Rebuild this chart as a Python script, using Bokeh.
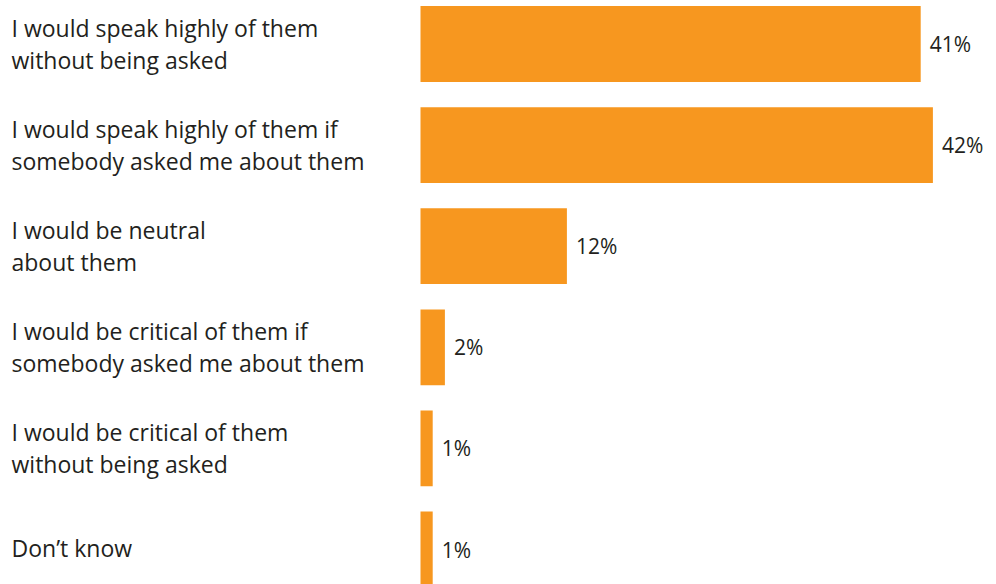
from bokeh.plotting import figure
from bokeh.models import Range1d, ColumnDataSource
from bokeh.core.properties import value
from bokeh.embed import file_html
from bokeh.resources import INLINE

# ---- data ----
categories = [
    "I would speak highly of them\nwithout being asked",
    "I would speak highly of them if\nsomebody asked me about them",
    "I would be neutral\nabout them",
    "I would be critical of them if\nsomebody asked me about them",
    "I would be critical of them\nwithout being asked",
    "Don\u2019t know",
]
percent = [41, 42, 12, 2, 1, 1]
value_labels = [f"{v}%" for v in percent]

W, H = 996, 584
BAR_LEFT_PX = 420
PX_PER_UNIT = 12.2
PITCH = 101.1
FIRST_CENTER = 43.5

x_start = -BAR_LEFT_PX / PX_PER_UNIT
x_end = (W - BAR_LEFT_PX) / PX_PER_UNIT
y_top = -FIRST_CENTER / PITCH
y_bottom = (H - FIRST_CENTER) / PITCH

p = figure(width=W, height=H, output_backend="svg", toolbar_location=None,
           x_range=Range1d(x_start, x_end), y_range=Range1d(y_bottom, y_top),
           min_border=0, min_border_left=0, min_border_right=0,
           min_border_top=0, min_border_bottom=0)
p.axis.visible = False
p.grid.visible = False
p.outline_line_color = None
p.background_fill_color = "white"
p.border_fill_color = "white"

ys = list(range(len(categories)))
src = ColumnDataSource(dict(y=ys, v=percent, lab=value_labels))
p.hbar(y="y", left=0, right="v", height=0.75, source=src,
       fill_color="#F7971F", line_color=None)

FONT = "Open Sans"
TXT = "#231F20"
p.text(x="v", y="y", text="lab", source=src, x_offset=9, y_offset=0,
       text_baseline="alphabetic", text_align="left",
       text_font=value(FONT), text_font_size="21px", text_color=TXT)

# category labels (one glyph per line)
lx, ly, lt, lo = [], [], [], []
for i, c in enumerate(categories):
    lines = c.split("\n")
    if len(lines) == 1:
        lx.append(x_start); ly.append(i); lt.append(lines[0]); lo.append(-2)
    else:
        lx += [x_start, x_start]; ly += [i, i]; lt += lines; lo += [-16, 16]
lsrc = ColumnDataSource(dict(x=lx, y=ly, t=lt, o=lo))
p.text(x="x", y="y", text="t", source=lsrc, x_offset=11, y_offset="o",
       text_baseline="alphabetic", text_align="left",
       text_font=value(FONT), text_font_size="23px", text_color=TXT)

open("out.html", "w").write(file_html(p, INLINE))
